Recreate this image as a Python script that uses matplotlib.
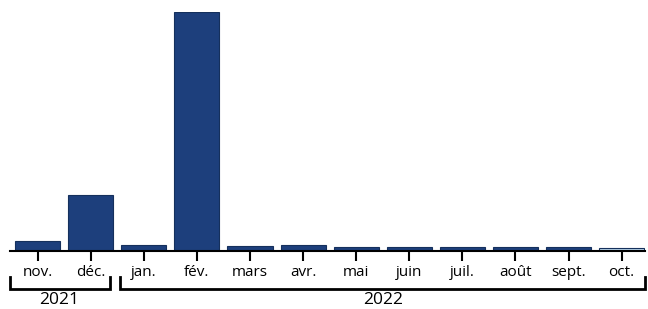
import matplotlib.pyplot as plt
import matplotlib.transforms as mtransforms

# Données (unités arbitraires, fév. = 100)
mois = ['nov.', 'déc.', 'jan.', 'fév.', 'mars', 'avr.', 'mai', 'juin',
        'juil.', 'août', 'sept.', 'oct.']
valeurs = [4.2, 23.5, 2.5, 100, 2.1, 2.5, 1.7, 1.7, 1.7, 1.6, 1.6, 1.3]
annees = ['2021', '2022']

couleur = '#1d3f7c'
couleur_dernier = '#b7d4ea'

plt.rcParams['font.family'] = ['Open Sans', 'DejaVu Sans']

fig = plt.figure(figsize=(6.48, 3.09), dpi=100)
ax = fig.add_axes([10 / 648, 1 - 251 / 309, 635 / 648, 239 / 309])

x = list(range(len(mois)))
couleurs = [couleur] * (len(mois) - 1) + [couleur_dernier]
ax.bar(x, valeurs, width=0.85, color=couleurs, edgecolor='#15305c', linewidth=0.8)

ax.set_xlim(-0.52, 11.44)
ax.set_ylim(0, 100)
ax.set_yticks([])
for s in ['top', 'right', 'left']:
    ax.spines[s].set_visible(False)
ax.spines['bottom'].set_linewidth(1.5)
ax.set_xticks(x)
ax.set_xticklabels(mois, fontsize=11)
ax.tick_params(axis='x', direction='out', length=7, width=1.5, pad=3)

# Accolades des années
trans = mtransforms.blended_transform_factory(ax.transData, fig.transFigure)
bornes = [(-0.52, 1.37), (1.55, 11.44)]
y_ligne = 1 - 289 / 309
y_haut = 1 - 277 / 309
for (a, b), annee in zip(bornes, annees):
    ax.plot([a, a, b, b], [y_haut, y_ligne, y_ligne, y_haut], color='black',
            lw=2, transform=trans, clip_on=False, solid_joinstyle='miter')
centres = [0.4, 6.5]
for c, annee in zip(centres, annees):
    ax.text(c, 1 - 300 / 309, annee, transform=trans, ha='center', va='center',
            fontsize=12.5)

fig.savefig('out.png', dpi=100)
